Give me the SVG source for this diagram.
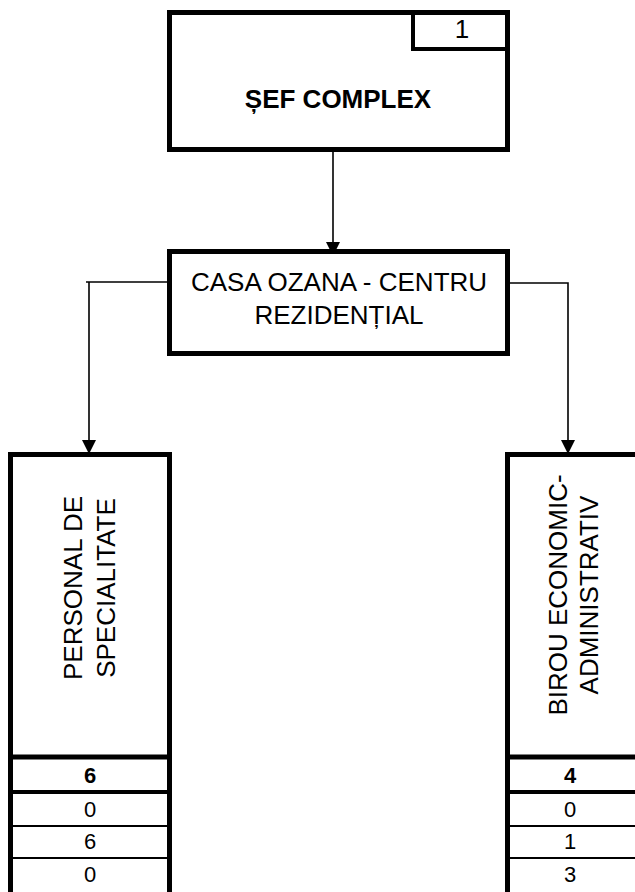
<svg xmlns="http://www.w3.org/2000/svg" width="635" height="892" viewBox="0 0 635 892">
<style>
.box{fill:#fff;stroke:#000;stroke-width:5}
.thin{fill:none;stroke:#000;stroke-width:2}
.con{fill:none;stroke:#000;stroke-width:1.6}
.t{font-family:"Liberation Sans",Arial,sans-serif;fill:#000;text-anchor:middle}
.big{font-size:26px}
.num{font-size:22px}
.b{font-weight:bold}
</style>
<defs>
<marker id="ah" markerWidth="15" markerHeight="14" refX="13" refY="7" orient="auto" markerUnits="userSpaceOnUse">
<path d="M0,0 L14,7 L0,14 Z" fill="#000"/>
</marker>
</defs>
<rect width="635" height="892" fill="#fff"/>
<g id="connectors">
<path class="con" d="M333,152 V255" marker-end="url(#ah)"/>
<path class="con" d="M167,282 H86 M89,282 V453" marker-end="url(#ah)"/>
<path class="con" d="M510,283 H568 V453" marker-end="url(#ah)"/>
</g>
<g id="sef-complex">
<rect class="box" x="169.5" y="12.5" width="338" height="137"/>
<path d="M413,12.5 V49 H507.5" fill="none" stroke="#000" stroke-width="4"/>
<text class="t big" x="462" y="38">1</text>
<text class="t big b" x="338" y="108">ȘEF COMPLEX</text>
</g>
<g id="casa-ozana">
<rect class="box" x="169.5" y="251.5" width="338" height="102"/>
<text class="t big" x="339" y="291">CASA OZANA - CENTRU</text>
<text class="t big" x="339" y="324">REZIDENȚIAL</text>
</g>
<g id="personal-specialitate">
<path d="M10.5,900 V454.5 H169.5 V900" fill="#fff" stroke="#000" stroke-width="5"/>
<line x1="10" y1="757" x2="170" y2="757" stroke="#000" stroke-width="5"/>
<line x1="10" y1="792" x2="170" y2="792" stroke="#000" stroke-width="4"/>
<line class="thin" x1="10" y1="826" x2="170" y2="826"/>
<line class="thin" x1="10" y1="858" x2="170" y2="858"/>
<text class="t big" transform="translate(82,588) rotate(-90)">PERSONAL DE</text>
<text class="t big" transform="translate(115,588) rotate(-90)">SPECIALITATE</text>
<text class="t num b" x="90" y="783">6</text>
<text class="t num" x="90" y="817">0</text>
<text class="t num" x="90" y="849">6</text>
<text class="t num" x="90" y="882">0</text>
</g>
<g id="birou-economic">
<path d="M645,454.5 H507.5 V900" fill="#fff" stroke="#000" stroke-width="5"/>
<line x1="505" y1="757" x2="640" y2="757" stroke="#000" stroke-width="5"/>
<line x1="505" y1="792" x2="640" y2="792" stroke="#000" stroke-width="4"/>
<line class="thin" x1="505" y1="826" x2="640" y2="826"/>
<line class="thin" x1="505" y1="858" x2="640" y2="858"/>
<text class="t big" transform="translate(567,595) rotate(-90)">BIROU ECONOMIC-</text>
<text class="t big" transform="translate(598,595) rotate(-90)">ADMINISTRATIV</text>
<text class="t num b" x="570" y="783">4</text>
<text class="t num" x="570" y="817">0</text>
<text class="t num" x="570" y="849">1</text>
<text class="t num" x="570" y="882">3</text>
</g>
</svg>
